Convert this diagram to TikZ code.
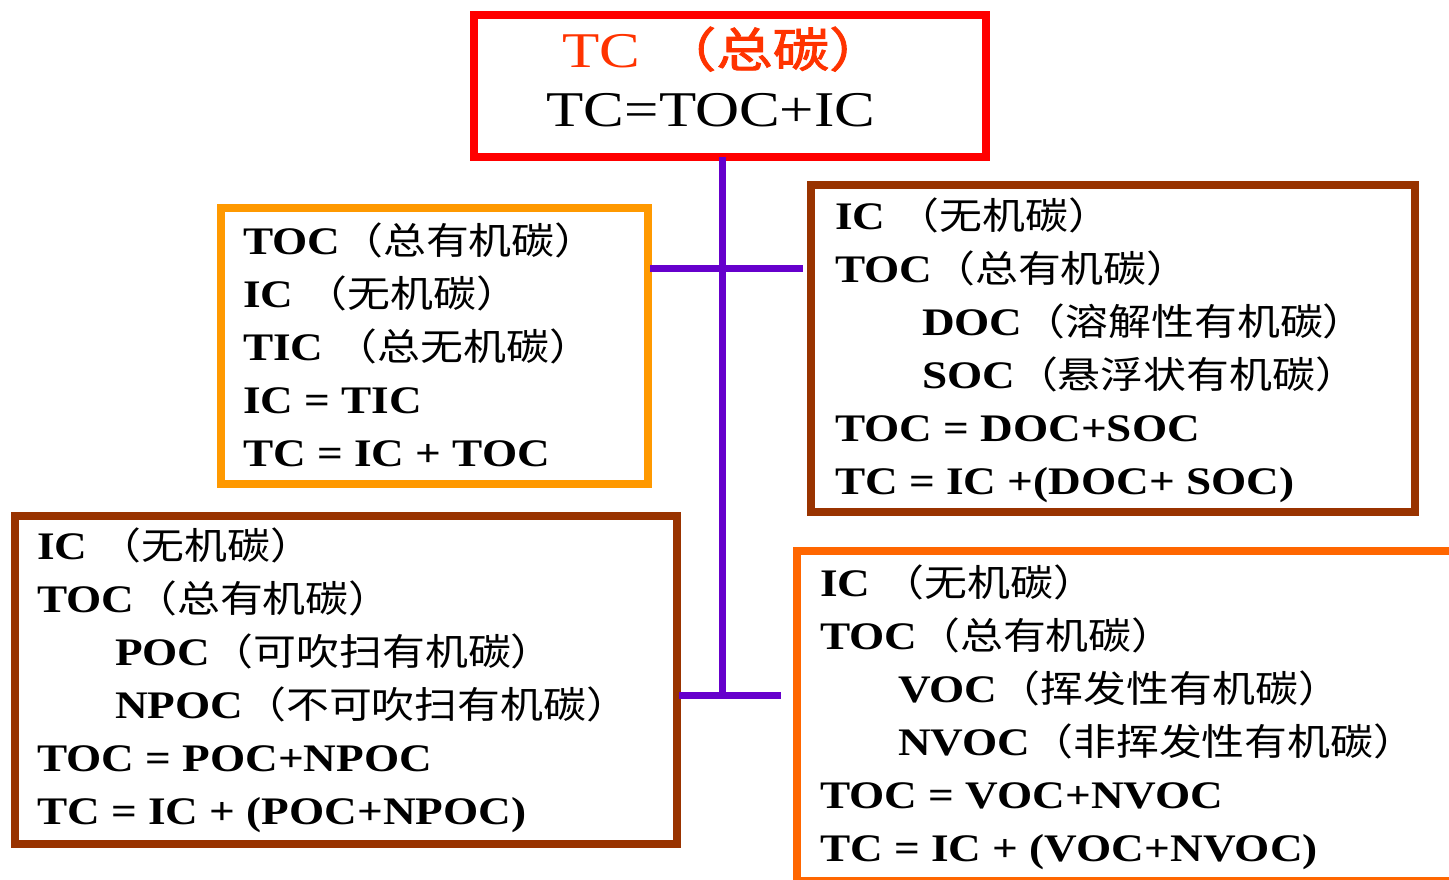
\documentclass[tikz,border=0pt]{standalone}
\usepackage{fontspec}
\setmainfont{Liberation Serif}[FakeStretch=1.16]
\newfontfamily\cjk{Noto Sans CJK SC}[FakeStretch=1.16]
\newfontfamily\cjktitle{Noto Sans CJK SC}[FakeStretch=1.2,FakeBold=2]
\newfontfamily\ttl{Liberation Serif}[FakeStretch=1.22]
\newcommand\zh[1]{{\fontsize{37}{37}\cjk\mdseries #1}}
\definecolor{boxred}{HTML}{FF0000}
\definecolor{titlered}{HTML}{FF3300}
\definecolor{boxorange}{HTML}{FF9900}
\definecolor{boxbrown}{HTML}{993300}
\definecolor{boxorange2}{HTML}{FF6600}
\definecolor{linkpurple}{HTML}{6600CC}
\tikzset{
  frame/.style={draw=#1, line width=8pt, inner sep=0pt, outer sep=0pt, fill=none},
  txt/.style={anchor=base west, inner sep=0pt, outer sep=0pt, font=\fontsize{39}{39}\selectfont\bfseries},
  ttltxt/.style={anchor=base, inner sep=0pt, outer sep=0pt},
  link/.style={draw=linkpurple, line width=7pt}
}
\begin{document}
\begin{tikzpicture}[x=1pt,y=-1pt]
\useasboundingbox (0,0) rectangle (1449,879);
\fill[white] (0,0) rectangle (1449,879);
\clip (0,0) rectangle (1449,879);
% boxes
\node[frame=boxred, minimum width=512pt, minimum height=142pt] (top) at (730,86) {};
\node[frame=boxorange, minimum width=427pt, minimum height=276pt] (lbox) at (434.5,346) {};
\node[frame=boxbrown, minimum width=604pt, minimum height=327pt] (rbox) at (1113,348.5) {};
\node[frame=boxbrown, minimum width=662pt, minimum height=328pt] (blbox) at (346,680) {};
\node[frame=boxorange2, minimum width=663pt, minimum height=330pt] (brbox) at (1128.5,716) {};
% connectors
\coordinate (j2) at (722,695);
\coordinate (s1) at (650,268);
\coordinate (e1) at (803,268);
\coordinate (s2) at (679,695);
\coordinate (e2) at (781,695);
\draw[link] (top.south -| j2) -- (j2);
\draw[link] (s1) -- (e1);
\draw[link] (s2) -- (e2);
% title
\node[ttltxt, anchor=base west, font=\fontsize{50}{50}\ttl, text=titlered] (t1) at (562,67) {TC\hspace{0.4em}{\fontsize{47}{47}\cjktitle （总碳）}};
\node[ttltxt, font=\fontsize{50}{50}\ttl] (t2) at (711,126) {TC=TOC+IC};
% left box
\node[txt] (l1) at (243,254) {TOC\zh{（总有机碳）}};
\node[txt] (l2) at (243,307) {IC \zh{（无机碳）}};
\node[txt] (l3) at (243,360) {TIC \zh{（总无机碳）}};
\node[txt] (l4) at (243,413) {IC = TIC};
\node[txt] (l5) at (243,466) {TC = IC + TOC};
% right box
\node[txt] (r1) at (835,229) {IC \zh{（无机碳）}};
\node[txt] (r2) at (835,282) {TOC\zh{（总有机碳）}};
\node[txt] (r3) at (922,335) {DOC\zh{（溶解性有机碳）}};
\node[txt] (r4) at (922,388) {SOC\zh{（悬浮状有机碳）}};
\node[txt] (r5) at (835,441) {TOC = DOC+SOC};
\node[txt] (r6) at (835,494) {TC = IC +(DOC+ SOC)};
% bottom left box
\node[txt] (bl1) at (37,559) {IC \zh{（无机碳）}};
\node[txt] (bl2) at (37,612) {TOC\zh{（总有机碳）}};
\node[txt] (bl3) at (115,665) {POC\zh{（可吹扫有机碳）}};
\node[txt] (bl4) at (115,718) {NPOC\zh{（不可吹扫有机碳）}};
\node[txt] (bl5) at (37,771) {TOC = POC+NPOC};
\node[txt] (bl6) at (37,824) {TC = IC + (POC+NPOC)};
% bottom right box
\node[txt] (br1) at (820,596) {IC \zh{（无机碳）}};
\node[txt] (br2) at (820,649) {TOC\zh{（总有机碳）}};
\node[txt] (br3) at (898,702) {VOC\zh{（挥发性有机碳）}};
\node[txt] (br4) at (898,755) {NVOC\zh{（非挥发性有机碳）}};
\node[txt] (br5) at (820,808) {TOC = VOC+NVOC};
\node[txt] (br6) at (820,861) {TC = IC + (VOC+NVOC)};
\end{tikzpicture}
\end{document}
